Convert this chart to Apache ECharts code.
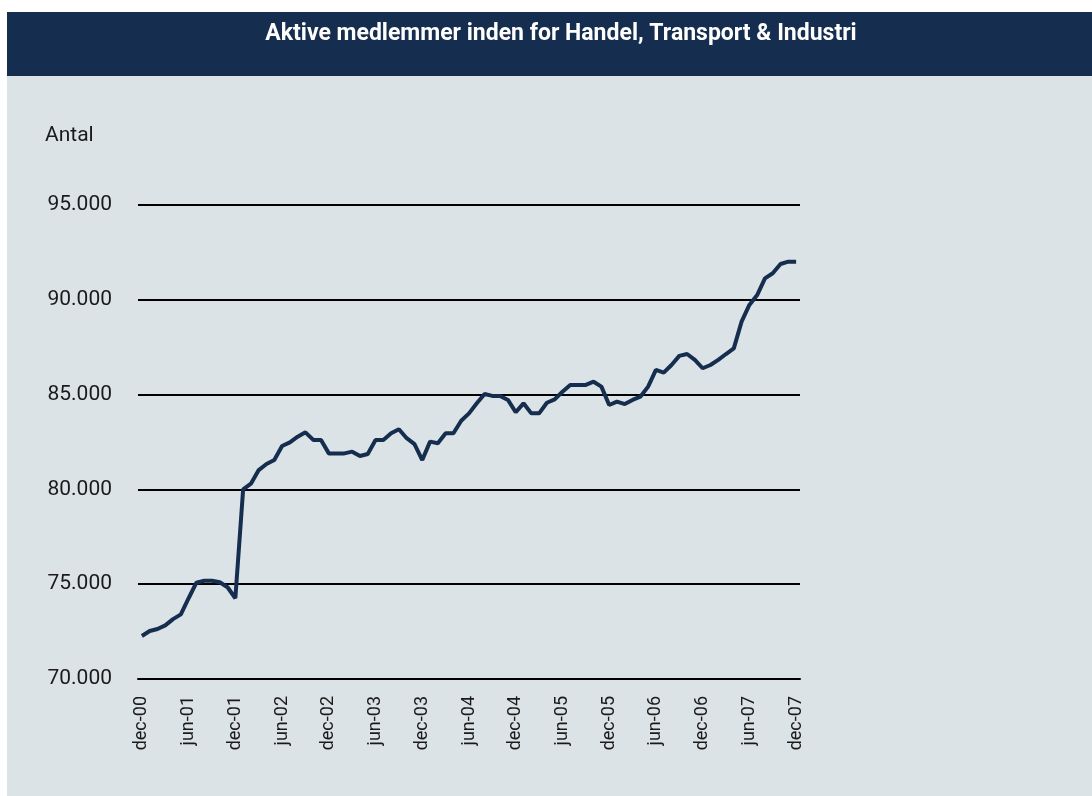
<!DOCTYPE html>
<html>
<head>
<meta charset="utf-8">
<script src="https://cdn.jsdelivr.net/npm/echarts@6/dist/echarts.min.js"></script>
<style>
  html, body { margin: 0; padding: 0; background: #fff; }
  #chart { width: 1092px; height: 796px; }
</style>
</head>
<body>
<div id="chart"></div>
<script>
  // måneder dec-00 .. dec-07
  var monthNames = ['jan', 'feb', 'mar', 'apr', 'maj', 'jun', 'jul', 'aug', 'sep', 'okt', 'nov', 'dec'];
  var months = ['dec-00'];
  for (var y = 1; y <= 7; y++) {
    for (var m = 0; m < 12; m++) {
      months.push(monthNames[m] + '-0' + y);
    }
  }

  // aktive medlemmer
  var members = [
    72270, 72530, 72640, 72830, 73160, 73410, 74260, 75080, 75180, 75180,
    75100, 74840, 74260, 80000, 80300, 81020, 81340, 81550, 82290, 82480,
    82780, 83010, 82610, 82610, 81900, 81900, 81900, 81990, 81760, 81870,
    82610, 82610, 82960, 83170, 82700, 82390, 81550, 82520, 82430, 82960,
    82960, 83620, 84010, 84540, 85030, 84930, 84930, 84720, 84070, 84540,
    84010, 84010, 84570, 84750, 85150, 85510, 85510, 85510, 85680, 85420,
    84450, 84630, 84500, 84720, 84890, 85420, 86300, 86160, 86560, 87040,
    87140, 86830, 86390, 86560, 86830, 87140, 87440, 88850, 89730, 90250,
    91130, 91400, 91890, 92010, 92010
  ];

  var yMin = 70000, yMax = 95000, yStep = 5000;

  function danish(v) {
    return String(v).replace(/\B(?=(\d{3})+(?!\d))/g, '.');
  }

  var chart = echarts.init(document.getElementById('chart'));
  chart.setOption({
    backgroundColor: '#ffffff',
    animation: false,
    textStyle: { fontFamily: 'Roboto, "DejaVu Sans", sans-serif' },
    graphic: [
      { type: 'rect', silent: true, z: -10, shape: { x: 7, y: 12, width: 1085, height: 784 }, style: { fill: '#dbe3e6' } },
      { type: 'rect', silent: true, z: -9, shape: { x: 7, y: 12, width: 1085, height: 64 }, style: { fill: '#152d4e' } }
    ],
    title: [{
      text: 'Aktive medlemmer inden for Handel, Transport & Industri',
      left: 556, top: 18, textAlign: 'center',
      textStyle: { color: '#ffffff', fontSize: 23, fontWeight: 'bold', fontFamily: 'Roboto, sans-serif' }
    }, {
      text: 'Antal',
      left: 40, top: 120,
      textStyle: { color: '#1a1a1a', fontSize: 21, fontWeight: 'normal', fontFamily: 'Roboto, sans-serif' }
    }],
    grid: { left: 138, right: 292, top: 205, bottom: 117 },
    xAxis: {
      type: 'category',
      data: months,
      boundaryGap: true,
      axisLine: { show: true, lineStyle: { color: '#000', width: 2 } },
      axisTick: { show: false },
      axisLabel: {
        interval: 5, rotate: 90, margin: 17,
        color: '#1a1a1a', fontSize: 18
      }
    },
    yAxis: {
      type: 'value',
      min: yMin, max: yMax, interval: yStep,
      axisLine: { show: false },
      axisTick: { show: false },
      splitLine: { lineStyle: { color: '#000', width: 2 } },
      axisLabel: {
        margin: 26, color: '#1a1a1a', fontSize: 21,
        formatter: function (v) { return danish(v); }
      }
    },
    series: [{
      type: 'line',
      data: members,
      symbol: 'none',
      lineStyle: { color: '#152d4e', width: 4 }
    }]
  });
</script>
</body>
</html>
